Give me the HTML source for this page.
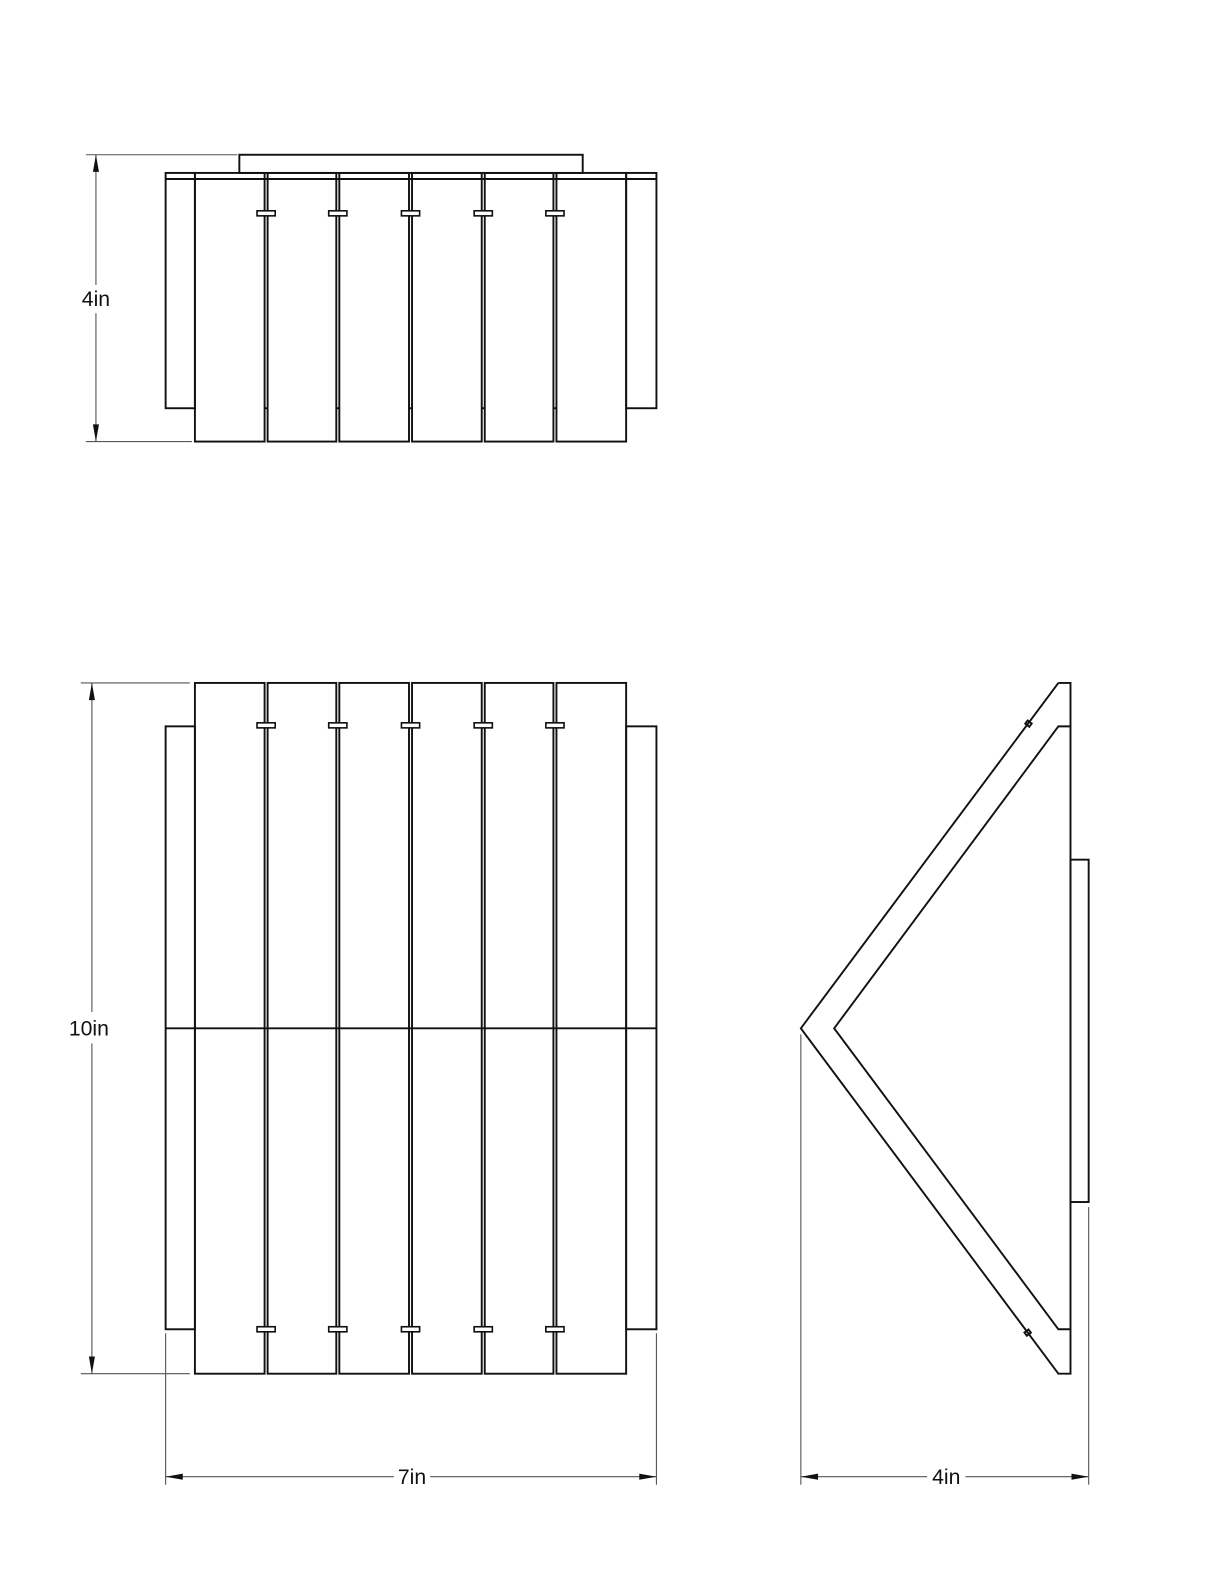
<!DOCTYPE html>
<html><head><meta charset="utf-8"><style>
html,body{margin:0;padding:0;background:#fff;}
svg{display:block;}
text{font-family:"Liberation Sans",sans-serif;font-size:21px;fill:#111;}
</style></head><body>
<svg width="1224" height="1584" viewBox="0 0 1212 1568" xmlns="http://www.w3.org/2000/svg">
<defs>
<g id="clip"><rect x="-9" y="-2.5" width="18" height="5" fill="#fff" stroke="#111" stroke-width="1.6"/></g>
</defs>
<g fill="none" stroke="#111" stroke-width="1.9">
<rect x="237" y="153" width="340" height="18"/>
<rect x="164" y="171" width="29" height="233"/>
<rect x="620" y="171" width="30" height="233"/>
<line x1="164" y1="177" x2="650" y2="177"/>
<rect x="193" y="171" width="69" height="266"/>
<rect x="265" y="171" width="68" height="266"/>
<rect x="336" y="171" width="69" height="266"/>
<rect x="408" y="171" width="69" height="266"/>
<rect x="480" y="171" width="68" height="266"/>
<rect x="551" y="171" width="69" height="266"/>
<line x1="262" y1="404" x2="265" y2="404"/><line x1="333" y1="404" x2="336" y2="404"/><line x1="405" y1="404" x2="408" y2="404"/><line x1="477" y1="404" x2="480" y2="404"/><line x1="548" y1="404" x2="551" y2="404"/>
<rect x="164" y="719" width="29" height="597"/>
<rect x="620" y="719" width="30" height="597"/>
<rect x="193" y="676" width="69" height="684"/>
<rect x="265" y="676" width="68" height="684"/>
<rect x="336" y="676" width="69" height="684"/>
<rect x="408" y="676" width="69" height="684"/>
<rect x="480" y="676" width="68" height="684"/>
<rect x="551" y="676" width="69" height="684"/>
<line x1="164" y1="1018" x2="650" y2="1018"/>
<polyline points="1048,676 1060,676 1060,1360 1048,1360 793,1018 1048,676"/>
<polyline points="1060,719 1048,719 826,1018 1048,1316 1060,1316"/>
<rect x="1060" y="851" width="18" height="339"/>
<rect x="1016" y="714" width="4" height="5" transform="rotate(-53 1018 716)"/>
<rect x="1016" y="1317" width="4" height="5" transform="rotate(53 1018 1319)"/>
</g>
<g>
<use href="#clip" x="263.5" y="211"/><use href="#clip" x="334.5" y="211"/><use href="#clip" x="406.5" y="211"/><use href="#clip" x="478.5" y="211"/><use href="#clip" x="549.5" y="211"/>
<use href="#clip" x="263.5" y="718"/><use href="#clip" x="334.5" y="718"/><use href="#clip" x="406.5" y="718"/><use href="#clip" x="478.5" y="718"/><use href="#clip" x="549.5" y="718"/>
<use href="#clip" x="263.5" y="1316"/><use href="#clip" x="334.5" y="1316"/><use href="#clip" x="406.5" y="1316"/><use href="#clip" x="478.5" y="1316"/><use href="#clip" x="549.5" y="1316"/>
</g>
<g stroke="#555" stroke-width="1.1" fill="none">
<line x1="85" y1="153" x2="235" y2="153"/>
<line x1="85" y1="437" x2="190" y2="437"/>
<line x1="95" y1="153" x2="95" y2="282"/>
<line x1="95" y1="310" x2="95" y2="437"/>
<line x1="80" y1="676" x2="188" y2="676"/>
<line x1="80" y1="1360" x2="188" y2="1360"/>
<line x1="91" y1="676" x2="91" y2="1002"/>
<line x1="91" y1="1033" x2="91" y2="1360"/>
<line x1="164" y1="1320" x2="164" y2="1470"/>
<line x1="650" y1="1320" x2="650" y2="1470"/>
<line x1="164" y1="1462" x2="390" y2="1462"/>
<line x1="426" y1="1462" x2="650" y2="1462"/>
<line x1="793" y1="1024" x2="793" y2="1470"/>
<line x1="1078" y1="1195" x2="1078" y2="1470"/>
<line x1="793" y1="1462" x2="918" y2="1462"/>
<line x1="956" y1="1462" x2="1078" y2="1462"/>
</g>
<g fill="#111">
<polygon points="95,153 92,170 98,170"/>
<polygon points="95,437 92,420 98,420"/>
<polygon points="91,676 88,693 94,693"/>
<polygon points="91,1360 88,1343 94,1343"/>
<polygon points="164,1462 181,1459 181,1465"/>
<polygon points="650,1462 633,1459 633,1465"/>
<polygon points="793,1462 810,1459 810,1465"/>
<polygon points="1078,1462 1061,1459 1061,1465"/>
</g>
<text x="95" y="303" text-anchor="middle">4in</text>
<text x="88" y="1025" text-anchor="middle">10in</text>
<text x="408" y="1469" text-anchor="middle">7in</text>
<text x="937" y="1469" text-anchor="middle">4in</text>
</svg>
</body></html>
